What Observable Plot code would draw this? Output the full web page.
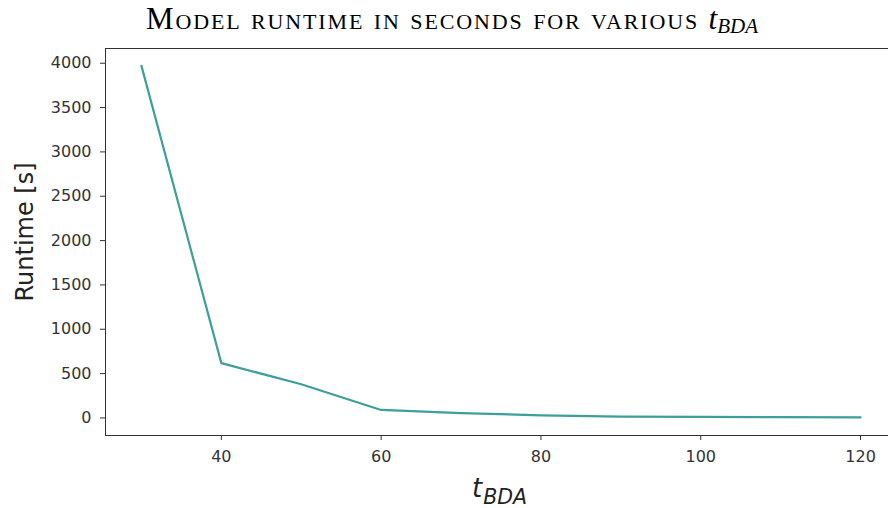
<!DOCTYPE html>
<html><head><meta charset="utf-8">
<script src="https://cdn.jsdelivr.net/npm/d3@7"></script>
<script src="https://cdn.jsdelivr.net/npm/@observablehq/plot@0.6"></script>
<style>
body{margin:0;background:#fff;}
#wrap{position:relative;width:888px;height:508px;overflow:hidden;background:#fff;}
#title{position:absolute;left:146px;top:-1px;height:40px;line-height:40px;font-family:"Liberation Serif","Times New Roman",serif;font-size:31px;letter-spacing:1.85px;font-variant:small-caps;white-space:nowrap;color:#000;}
#title i{letter-spacing:0;font-variant:normal;}
#title sub{font-size:21px;vertical-align:-4px;line-height:0;letter-spacing:2.5px;font-variant:normal;}
#chart{position:absolute;left:0;top:40px;}
</style></head>
<body>
<div id="wrap">
  <div id="title">Model runtime in seconds for various <i>t</i><sub><i>BDA</i></sub></div>
  <div id="chart"></div>
</div>
<script>
const tBDA = [30, 40, 50, 60, 70, 80, 90, 100, 110, 120];
const runtime = [3970, 618, 380, 90, 55, 30, 15, 12, 9, 6];
const xTicks = [40, 60, 80, 100, 120];
const yTicks = [0, 500, 1000, 1500, 2000, 2500, 3000, 3500, 4000];
const yLabel = "Runtime [s]";
const xLabelMain = "t";
const xLabelSub = "BDA";

const rows = tBDA.map((t, i) => ({t, r: runtime[i]}));

const plot = Plot.plot({
  width: 888,
  height: 468,
  marginLeft: 105,
  marginRight: 0,
  marginTop: 8,
  marginBottom: 73,
  style: {fontFamily: "DejaVu Sans", fontSize: "16px", color: "#333", background: "#fff", overflow: "visible"},
  x: {domain: [25.5, 123.5]},
  y: {domain: [-198, 4166]},
  marks: [
    Plot.frame({anchor: "top", stroke: "#333"}),
    Plot.frame({anchor: "left", stroke: "#333"}),
    Plot.frame({anchor: "bottom", stroke: "#333"}),
    Plot.axisX({ticks: xTicks, tickSize: 5, tickPadding: 10, tickFormat: d3.format("d"), label: null, stroke: "#333"}),
    Plot.axisY({ticks: yTicks, tickSize: 5, tickPadding: 9, tickFormat: d3.format("d"), label: null, stroke: "#333"}),
    Plot.line(rows, {x: "t", y: "r", stroke: "#3d9f99", strokeWidth: 2.2})
  ]
});
document.getElementById("chart").appendChild(plot);

const svg = d3.select(plot);
svg.append("text")
  .attr("transform", "translate(33,192) rotate(-90)")
  .attr("text-anchor", "middle")
  .attr("font-family", "DejaVu Sans")
  .attr("font-size", 24)
  .attr("fill", "#222")
  .text(yLabel);
const xl = svg.append("text")
  .attr("x", 472).attr("y", 457)
  .attr("text-anchor", "start")
  .attr("font-family", "DejaVu Sans")
  .attr("font-style", "italic")
  .attr("font-size", 26)
  .attr("fill", "#222");
xl.append("tspan").text(xLabelMain);
xl.append("tspan").attr("font-size", 20.5).attr("dy", 7).attr("dx", 1).text(xLabelSub);
</script>
</body></html>
